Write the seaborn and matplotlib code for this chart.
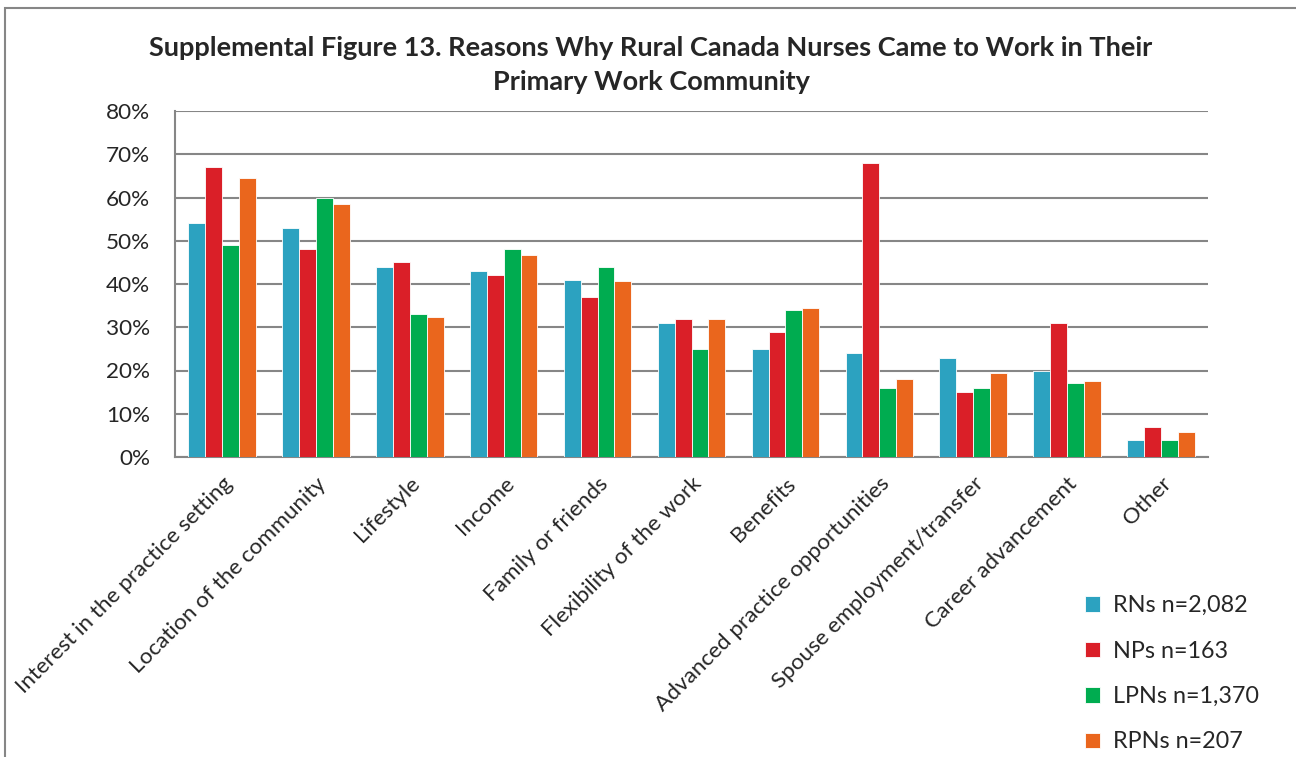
import matplotlib
matplotlib.use("Agg")
import matplotlib.pyplot as plt
import seaborn as sns
import pandas as pd
import numpy as np
from matplotlib.patches import Rectangle
from matplotlib.ticker import FixedLocator, FuncFormatter

categories = ["Interest in the practice setting", "Location of the community", "Lifestyle",
              "Income", "Family or friends", "Flexibility of the work", "Benefits",
              "Advanced practice opportunities", "Spouse employment/transfer",
              "Career advancement", "Other"]
series = ["RNs n=2,082", "NPs n=163", "LPNs n=1,370", "RPNs n=207"]
rns  = [54, 53, 44, 43, 41, 31, 25, 24, 23, 20, 4]
nps  = [67, 48, 45, 42, 37, 32, 29, 68, 15, 31, 7]
lpns = [49, 60, 33, 48, 44, 25, 34, 16, 16, 17, 4]
rpns = [64.5, 58.5, 32.4, 46.7, 40.8, 31.9, 34.5, 18.1, 19.5, 17.5, 5.7]
colors = ["#2CA2C0", "#DA1F28", "#00AC50", "#EA661D"]
title = "Supplemental Figure 13. Reasons Why Rural Canada Nurses Came to Work in Their\nPrimary Work Community"

rows = []
for s, vals in zip(series, [rns, nps, lpns, rpns]):
    for c, v in zip(categories, vals):
        rows.append({"Reason": c, "Group": s, "Value": v})
df = pd.DataFrame(rows)

sns.set_style("white")
plt.rcParams["font.family"] = ["Lato", "DejaVu Sans"]

fig = plt.figure(figsize=(12.96, 7.57), dpi=100)
W, H = 1296, 757
ax = fig.add_axes([175 / W, 1 - 457 / H, (1208 - 175) / W, (457 - 111) / H])

sns.barplot(data=df, x="Reason", y="Value", hue="Group", order=categories,
            hue_order=series, palette=colors, width=0.72, ax=ax,
            edgecolor="white", linewidth=0.6, saturation=1, legend=True, zorder=3)

ax.set_ylim(0, 80)
ax.set_xlim(-0.5, len(categories) - 0.5)
ax.set_yticks(np.arange(0, 81, 10))
ax.yaxis.set_major_formatter(FuncFormatter(lambda v, p: f"{int(v)}%"))
ax.grid(axis="y", color="#868686", linewidth=1.5, zorder=0)
ax.set_axisbelow(True)

# x ticks: marks at boundaries, labels at centers
ax.xaxis.set_major_locator(FixedLocator(np.arange(-0.5, len(categories), 1.0)))
ax.xaxis.set_major_formatter(FuncFormatter(lambda v, p: ""))
ax.xaxis.set_minor_locator(FixedLocator(np.arange(len(categories))))
ax.set_xticklabels(categories, minor=True, rotation=45, ha="right",
                   rotation_mode="anchor", fontsize=16.2)
ax.tick_params(axis="x", which="minor", length=0, pad=12)
ax.tick_params(axis="x", which="major", length=7, width=1.5, color="#868686", direction="out")
ax.tick_params(axis="y", length=8, width=1.5, color="#868686", direction="out",
               labelsize=16.2, pad=10)
ax.set_xlabel("")
ax.set_ylabel("")
for side in ["top", "right"]:
    ax.spines[side].set_visible(False)
for side in ["left", "bottom"]:
    ax.spines[side].set_color("#868686")
    ax.spines[side].set_linewidth(1.5)

handles, labels = ax.get_legend_handles_labels()
ax.legend(handles, labels, loc="upper left", bbox_to_anchor=(1064 / W, 1 - 574 / H),
          bbox_transform=fig.transFigure, frameon=False, fontsize=16.8,
          handlelength=0.65, handleheight=0.65, handletextpad=0.55, labelspacing=1.05)

fig.text(651 / W, 1 - 65 / H, title, ha="center", va="center", fontsize=19.5,
         fontweight="bold", linespacing=1.45)

fig.patches.append(Rectangle((5 / W, -0.1), 1.2, 1 - 8 / H + 0.1, transform=fig.transFigure,
                             fill=False, edgecolor="#868686", linewidth=1.5, zorder=10))

fig.savefig("out.png", dpi=100)
